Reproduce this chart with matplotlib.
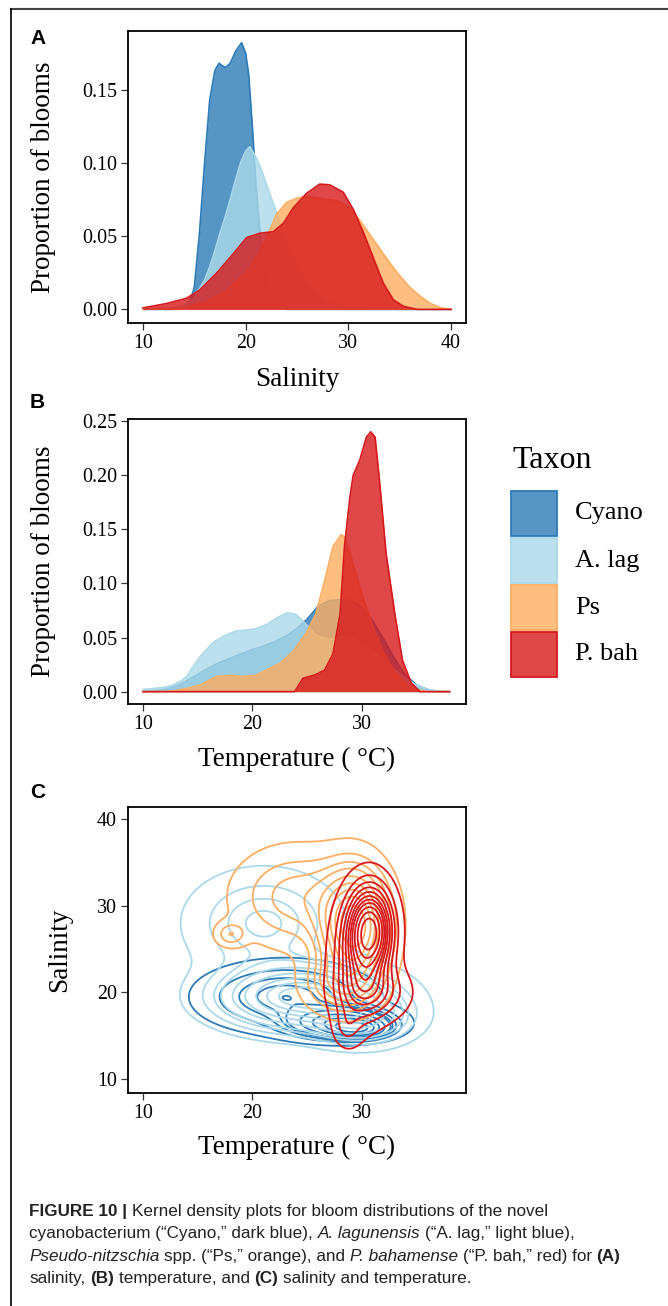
import matplotlib
matplotlib.use("Agg")
import matplotlib.pyplot as plt
import numpy as np
from matplotlib.patches import Rectangle
from matplotlib.ticker import FormatStrFormatter

plt.rcParams["font.family"] = ["Liberation Serif", "DejaVu Serif"]

taxa = ["Cyano", "A. lag", "Ps", "P. bah"]
colors = ["#2c7bb6", "#abd9e9", "#fdae61", "#d7191c"]

# panel A: density of blooms over salinity
cyano_sal_x = [10, 13, 14, 14.5, 15, 15.5, 16, 16.5, 17, 17.4, 18, 18.5, 19, 19.6, 20, 20.3, 20.7, 21, 21.5, 22, 22.5, 23, 24, 40]
cyano_sal_y = [0, 0, 0.001, 0.004, 0.015, 0.052, 0.10, 0.143, 0.163, 0.168, 0.165, 0.168, 0.176, 0.182, 0.175, 0.16, 0.12, 0.085, 0.045, 0.02, 0.008, 0.003, 0, 0]
alag_sal_x = [10, 13, 14, 15, 16, 16.5, 17, 17.5, 18, 18.5, 19, 19.5, 20, 20.4, 21, 21.5, 22, 22.5, 23, 24, 25, 26, 27, 28, 30, 32, 40]
alag_sal_y = [0, 0.001, 0.003, 0.008, 0.02, 0.029, 0.04, 0.052, 0.063, 0.075, 0.088, 0.10, 0.108, 0.111, 0.104, 0.096, 0.086, 0.076, 0.066, 0.045, 0.03, 0.018, 0.01, 0.005, 0.001, 0, 0]
ps_sal_x = [10, 14, 16, 18, 20, 21, 22, 23, 24, 25, 26, 27, 28, 29, 30, 31, 32, 33, 34, 35, 36, 37, 38, 39, 40]
ps_sal_y = [0, 0.001, 0.005, 0.012, 0.025, 0.035, 0.048, 0.065, 0.073, 0.076, 0.077, 0.076, 0.075, 0.074, 0.07, 0.062, 0.052, 0.042, 0.032, 0.023, 0.015, 0.009, 0.004, 0.001, 0]
pbah_sal_x = [10, 12.3, 14.2, 15.5, 17.2, 18.8, 20.1, 21.4, 22.7, 23.7, 24.6, 25.9, 27.2, 28.2, 29.5, 30.5, 31.5, 32.5, 33.4, 34.4, 35.4, 36.7, 40]
pbah_sal_y = [0.001, 0.004, 0.0075, 0.013, 0.025, 0.038, 0.049, 0.052, 0.053, 0.059, 0.069, 0.079, 0.0855, 0.085, 0.080, 0.068, 0.052, 0.034, 0.018, 0.0064, 0.002, 0, 0]

# panel B: density of blooms over temperature
cyano_temp_x = [10, 12, 13, 14, 15, 16, 17, 18, 19, 20, 21, 22, 23, 24, 25, 26, 27, 28, 29, 30, 31, 32, 33, 34, 35, 36, 37, 38]
cyano_temp_y = [0, 0.002, 0.005, 0.01, 0.016, 0.022, 0.027, 0.031, 0.035, 0.039, 0.042, 0.046, 0.051, 0.058, 0.067, 0.079, 0.084, 0.085, 0.084, 0.078, 0.065, 0.048, 0.03, 0.015, 0.006, 0.002, 0, 0]
alag_temp_x = [10, 11, 12, 12.7, 13.5, 14, 14.5, 15.2, 16, 16.5, 17.5, 18.5, 19.5, 20.3, 21.3, 22.2, 23.2, 24, 24.9, 25.8, 27, 28, 29, 30, 31, 32, 33, 34, 35, 36, 37, 38]
alag_temp_y = [0.002, 0.003, 0.004, 0.006, 0.01, 0.014, 0.022, 0.032, 0.041, 0.046, 0.052, 0.056, 0.057, 0.058, 0.062, 0.068, 0.073, 0.071, 0.062, 0.052, 0.048, 0.05, 0.05, 0.045, 0.037, 0.028, 0.02, 0.012, 0.006, 0.002, 0.0005, 0]
ps_temp_x = [10, 12, 13, 14, 15.2, 16.7, 17.9, 19.1, 20.3, 21.3, 22.5, 23.7, 24.9, 25.8, 26.6, 27.35, 28.1, 28.4, 29, 30, 31, 32, 33, 34, 35, 36, 38]
ps_temp_y = [0, 0, 0.001, 0.003, 0.006, 0.014, 0.015, 0.014, 0.015, 0.020, 0.026, 0.037, 0.054, 0.072, 0.103, 0.134, 0.145, 0.143, 0.125, 0.09, 0.06, 0.035, 0.018, 0.007, 0.002, 0, 0]
pbah_temp_x = [10, 23.85, 24.6, 25.7, 26.6, 27.35, 28.0, 28.4, 28.9, 29.2, 29.8, 30.4, 30.8, 31.2, 31.6, 32.2, 33.0, 33.7, 34.5, 35.3, 38]
pbah_temp_y = [0, 0, 0.0123, 0.0154, 0.020, 0.035, 0.072, 0.134, 0.18, 0.20, 0.214, 0.235, 0.240, 0.235, 0.195, 0.128, 0.072, 0.029, 0.008, 0, 0]

# panel C: density blobs (temp, salinity, spread T, spread S, weight)
cyano_blobs = [(23.0, 19.5, 4.3, 2.2, 0.45), (28.0, 16.5, 2.6, 1.0, 0.40), (29.5, 15.8, 1.5, 0.6, 0.15)]
alag_blobs = [(24.5, 19.5, 4.5, 2.2, 0.60), (21.0, 28.0, 4.0, 3.5, 0.25), (30.0, 17.0, 2.8, 1.8, 0.15)]
ps_blobs = [(29.3, 27.5, 1.9, 4.0, 0.60), (24.0, 31.0, 3.5, 3.5, 0.25), (18.0, 26.7, 0.9, 0.9, 0.012), (28.0, 21.0, 2.0, 2.0, 0.10)]
pbah_blobs = [(30.8, 27.2, 1.3, 3.2, 0.50), (29.6, 23.5, 1.5, 4.5, 0.30), (31.0, 20.0, 2.0, 2.0, 0.15), (28.6, 16.0, 0.8, 1.5, 0.02)]
contour_counts = [10, 10, 10, 12]

caption = [
    [("FIGURE 10 |", "bold", "normal"), (" Kernel density plots for bloom distributions of the novel", "normal", "normal")],
    [("cyanobacterium (\u201cCyano,\u201d dark blue), ", "normal", "normal"), ("A. lagunensis", "normal", "italic"),
     (" (\u201cA. lag,\u201d light blue),", "normal", "normal")],
    [("Pseudo-nitzschia", "normal", "italic"), (" spp. (\u201cPs,\u201d orange), and ", "normal", "normal"),
     ("P. bahamense", "normal", "italic"), (" (\u201cP. bah,\u201d red) for ", "normal", "normal"), ("(A)", "bold", "normal")],
    [("salinity, ", "normal", "normal"), ("(B)", "bold", "normal"), (" temperature, and ", "normal", "normal"),
     ("(C)", "bold", "normal"), (" salinity and temperature.", "normal", "normal")],
]

W, H = 668, 1306
fig = plt.figure(figsize=(W / 100, H / 100), dpi=100)
over = fig.add_axes([0, 0, 1, 1])
over.set_xlim(0, W)
over.set_ylim(H, 0)
over.axis("off")


def px_axes(left, top, right, bottom):
    return fig.add_axes([left / W, 1 - bottom / H, (right - left) / W, (bottom - top) / H])


def style_axes(ax):
    for sp in ax.spines.values():
        sp.set_linewidth(1.3)
        sp.set_color("black")
        sp.set_zorder(5)
    ax.tick_params(direction="out", length=5, width=0.9, color="#333333",
                   labelcolor="black", labelsize=14.4, pad=3)


def density_panel(ax, series, ylim, yticks):
    # each taxon's fill covers the outline of the ones drawn before it
    for i, ((x, y), c) in enumerate(zip(series, colors)):
        ax.fill_between(x, 0, y, color=c, alpha=0.8, linewidth=0, zorder=1 + i)
        ax.plot(x, y, color=c, linewidth=1.2, zorder=1.5 + i)
    ax.set_ylim(*ylim)
    ax.set_yticks(yticks)
    ax.yaxis.set_major_formatter(FormatStrFormatter("%.2f"))
    ax.set_ylabel("Proportion of blooms", fontsize=19.5)
    style_axes(ax)


# A
ax_a = px_axes(128, 31, 466, 323)
density_panel(ax_a, [(cyano_sal_x, cyano_sal_y), (alag_sal_x, alag_sal_y),
                     (ps_sal_x, ps_sal_y), (pbah_sal_x, pbah_sal_y)],
              (-0.0093, 0.190), [0, 0.05, 0.10, 0.15])
ax_a.set_xlim(8.54, 41.46)
ax_a.set_xticks([10, 20, 30, 40])
ax_a.set_xlabel("Salinity", fontsize=19.5)
ax_a.xaxis.set_label_coords(0.5, -0.192)
ax_a.yaxis.set_label_coords(-0.249, 0.5)

# B
ax_b = px_axes(128, 419, 466, 704)
density_panel(ax_b, [(cyano_temp_x, cyano_temp_y), (alag_temp_x, alag_temp_y),
                     (ps_temp_x, ps_temp_y), (pbah_temp_x, pbah_temp_y)],
              (-0.0114, 0.2518), [0, 0.05, 0.10, 0.15, 0.20, 0.25])
ax_b.set_xlim(8.63, 39.5)
ax_b.set_xticks([10, 20, 30])
ax_b.set_xlabel("Temperature ( \u00b0C)", fontsize=19.5)
ax_b.xaxis.set_label_coords(0.5, -0.196)
ax_b.yaxis.set_label_coords(-0.249, 0.5)

# C
ax_c = px_axes(128, 807, 466, 1093)
tt, ss = np.meshgrid(np.linspace(8, 40, 321), np.linspace(5, 45, 401))
for blobs, c, n in zip([cyano_blobs, alag_blobs, ps_blobs, pbah_blobs], colors, contour_counts):
    z = np.zeros_like(tt)
    for t0, s0, st, sd, w in blobs:
        z += w * np.exp(-0.5 * (((tt - t0) / st) ** 2 + ((ss - s0) / sd) ** 2)) / (st * sd)
    # iso-proportion levels, like seaborn's kdeplot
    v = np.sort(z.ravel())[::-1]
    cum = np.cumsum(v) / v.sum()
    lv = np.take(v, np.searchsorted(cum, 1 - np.linspace(0.05, 1, n)), mode="clip")
    ax_c.contour(tt, ss, z, levels=np.unique(lv)[:-1], colors=c, linewidths=1.3)
ax_c.set_xlim(8.63, 39.5)
ax_c.set_ylim(8.39, 41.4)
ax_c.set_xticks([10, 20, 30])
ax_c.set_yticks([10, 20, 30, 40])
ax_c.set_xlabel("Temperature ( \u00b0C)", fontsize=19.5)
ax_c.set_ylabel("Salinity", fontsize=19.5)
ax_c.xaxis.set_label_coords(0.5, -0.192)
ax_c.yaxis.set_label_coords(-0.201, 0.5)
style_axes(ax_c)

for ax in (ax_a, ax_b, ax_c):
    ax.xaxis.label.set_va("center")
    ax.yaxis.label.set_va("center")

# legend
over.text(512, 460, "Taxon", fontsize=23, va="center", ha="left")
for i, (name, c) in enumerate(zip(taxa, colors)):
    top = 491 + i * 47
    over.add_patch(Rectangle((511, top), 46, 45, facecolor=c, alpha=0.8, edgecolor="none"))
    over.add_patch(Rectangle((511, top), 46, 45, facecolor="none", edgecolor=c, linewidth=1.3))
    over.text(575, top + 22.5, name, fontsize=19, va="center", ha="left")

# panel letters and frame
for letter, y in [("A", 39), ("B", 403), ("C", 793)]:
    over.text(30, y, letter, fontsize=15, fontweight="bold", family="Liberation Sans", va="center")
over.plot([11, W], [9, 9], color="#444444", linewidth=1.5)
over.plot([11, 11], [9, H], color="black", linewidth=1.2)

# caption, drawn piece by piece so bold / italic runs sit inline
fig.canvas.draw()
renderer = fig.canvas.get_renderer()
cap_size = 12.3
probe = over.text(0, 0, "a a", fontsize=cap_size, family="Liberation Sans")
w2 = probe.get_window_extent(renderer).width
probe.set_text("aa")
space_w = w2 - probe.get_window_extent(renderer).width
probe.remove()
for line, base in zip(caption, [1216, 1238, 1261, 1283]):
    x = 29
    for text, weight, style in line:
        if text.startswith(" "):
            x += space_w
        t = over.text(x, base, text.strip(), fontsize=cap_size, family="Liberation Sans",
                      fontweight=weight, fontstyle=style, color="#222222", va="baseline", ha="left")
        x += t.get_window_extent(renderer).width
        if text.endswith(" "):
            x += space_w

fig.savefig("out.png", dpi=100)
